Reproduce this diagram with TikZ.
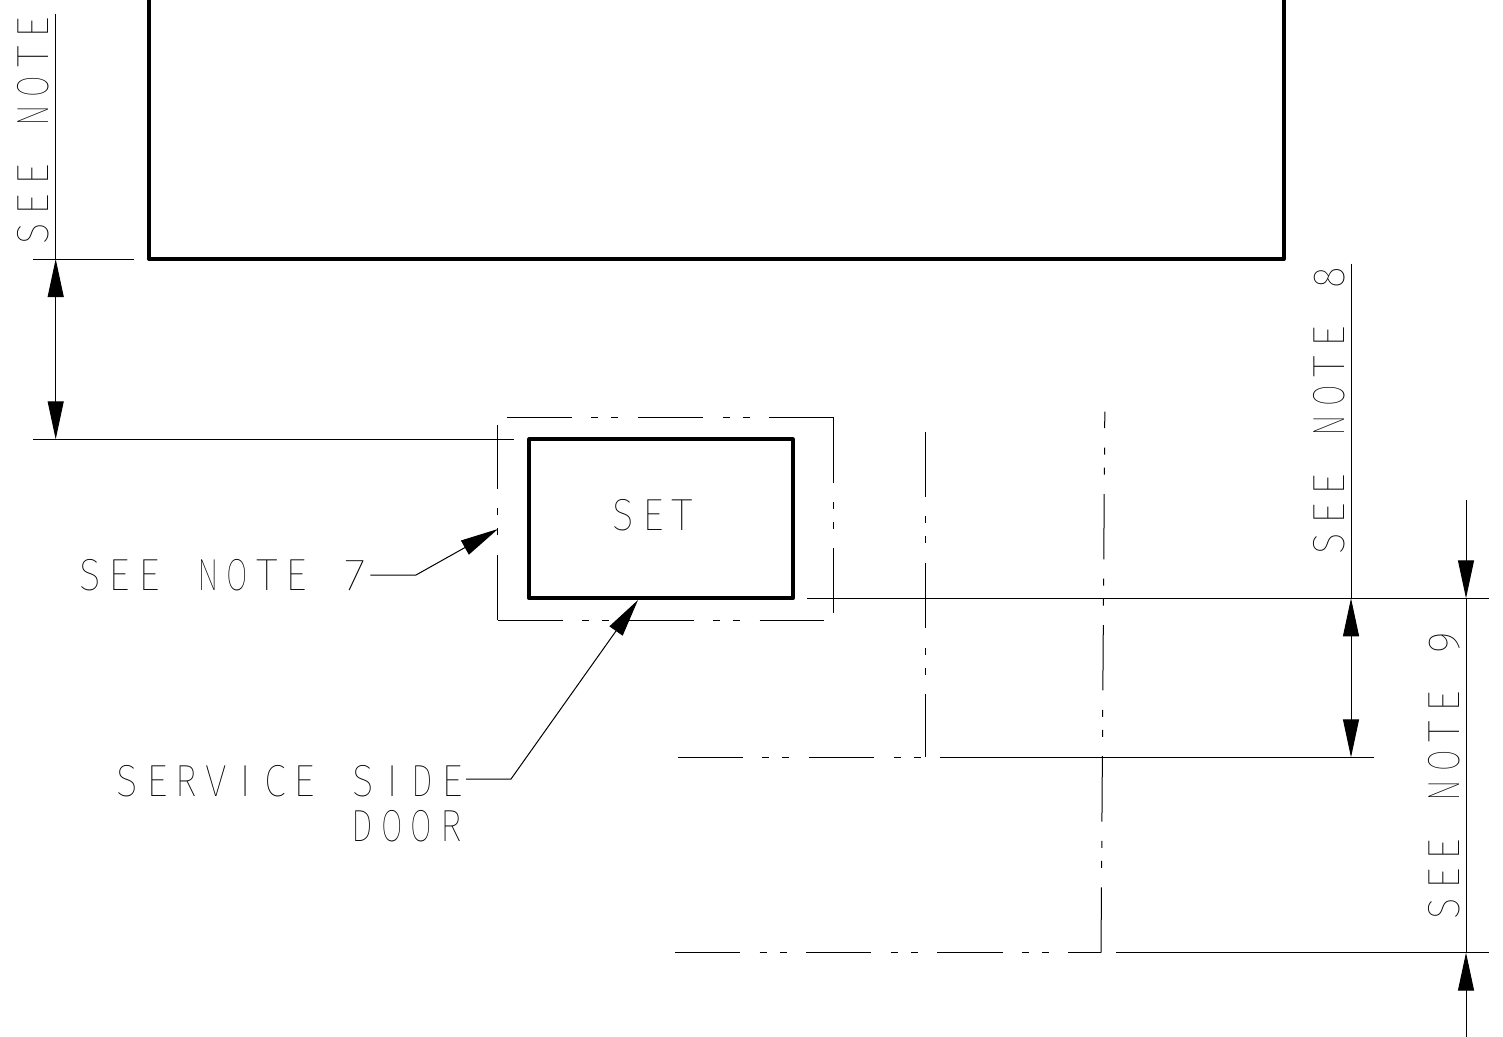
\documentclass[tikz,border=0pt]{standalone}
\usepackage{fontspec}
\usepackage{graphicx}
\usetikzlibrary{arrows.meta}
\newfontfamily\cadfont{Fira Sans Thin}
\makeatletter
\def\cad@I{I}
\def\cad@sp{~}
\newcommand\cadglyph[1]{%
  \def\cad@g{#1}%
  \ifx\cad@g\cad@I I\else
  \ifx\cad@g\cad@sp\else
  \resizebox{21.5pt}{\height}{#1}%
  \fi\fi}
\newcommand\cadtext[1]{\@tfor\cad@c:=#1\do{\makebox[29.5pt][c]{\expandafter\cadglyph\expandafter{\cad@c}}}}
\makeatother
\tikzset{
  x=1pt,y=-1pt,
  thinline/.style={line width=1pt,black},
  thickline/.style={line width=4pt,black,line join=round},
  phantomline/.style={thinline,dash pattern=on 65.3pt off 19.4pt on 7pt off 13pt on 7pt off 19.4pt},
  dimtip/.style={-{Triangle[length=38pt,width=16pt]}},
  dimtips/.style={{Triangle[length=38pt,width=16pt]}-{Triangle[length=38pt,width=16pt]}},
  label/.style={inner sep=0pt,outer sep=0pt,anchor=base west,font=\cadfont\fontsize{45}{45}\selectfont},
}
\begin{document}
\begin{tikzpicture}
\clip (0,0) rectangle (1503,1036);
\fill[white] (0,0) rectangle (1503,1036);

% large unit, cut by the top edge
\coordinate (bigTL) at (149.3,-10);
\coordinate (bigBL) at (149.3,259);
\coordinate (bigBR) at (1283.7,259);
\coordinate (bigTR) at (1283.7,-10);
\draw[thickline] (bigTL) -- (bigBL) -- (bigBR) -- (bigTR);

% set
\node[thickline,draw,inner sep=0pt,minimum width=263.4pt,minimum height=159pt] (setbox) at (661,518.8) {};
\node[label,anchor=base] (settext) at (653,530) {\cadtext{SET}};

% clearance outline around the set
\coordinate (cTopL) at (506.7,417.3);
\coordinate (cTR) at (833,417.3);
\coordinate (cRightB) at (833,613);
\coordinate (cBL) at (497.5,620);
\coordinate (cBotR) at (824,620);
\coordinate (cLeftT) at (497.5,424.5);
\draw[phantomline] (cTopL) -- (cTR);
\draw[phantomline] (cTR) -- (cRightB);
\draw[phantomline] (cBL) -- (cBotR);
\draw[phantomline] (cBL) -- (cLeftT);

% centre lines
\coordinate (v1T) at (925,431.7);
\coordinate (v1B) at (925,757.3);
\coordinate (v2T) at (1104.8,411.7);
\coordinate (v2B) at (1101,952.6);
\draw[phantomline] (v1T) -- (v1B);
\draw[phantomline] (v2B) -- (v2T);
\coordinate (h1L) at (677.7,757.3);
\coordinate (h1R) at (925,757.3);
\coordinate (h1bL) at (939.5,757.3);
\coordinate (h1bR) at (1374,757.3);
\draw[phantomline] (h1L) -- (h1R);
\draw[thinline] (h1bL) -- (h1bR);
\coordinate (h2L) at (675,952.6);
\coordinate (h2R) at (1101,952.6);
\coordinate (h2bL) at (1116,952.6);
\coordinate (h2bR) at (1489,952.6);
\draw[phantomline] (h2L) -- (h2R);
\draw[thinline] (h2bL) -- (h2bR);
\coordinate (h3L) at (807.3,598.3);
\coordinate (h3R) at (1489,598.3);
\draw[thinline] (h3L) -- (h3R);

% left dimension
\coordinate (dA0) at (55.7,13.5);
\coordinate (dA1) at (55.7,259);
\coordinate (dA2) at (55.7,439.3);
\coordinate (eA1L) at (33,259);
\coordinate (eA1R) at (134,259);
\coordinate (eA2L) at (33,439.3);
\coordinate (eA2R) at (513.5,439.3);
\draw[thinline] (dA0) -- (dA1);
\draw[thinline,dimtips] (dA1) -- (dA2);
\draw[thinline] (eA1L) -- (eA1R);
\draw[thinline] (eA2L) -- (eA2R);
\node[label,rotate=90] (note0) at (48.5,248.5) {\cadtext{SEE~NOTE}};

% note 8
\coordinate (dB0) at (1351,263.5);
\coordinate (dB1) at (1351,598.3);
\coordinate (dB2) at (1351,757.3);
\draw[thinline] (dB0) -- (dB1);
\draw[thinline,dimtips] (dB1) -- (dB2);
\node[label,rotate=90] (note8) at (1344,558) {\cadtext{SEE~NOTE~8}};

% note 9
\coordinate (dC0) at (1466,500);
\coordinate (dC1) at (1466,598.3);
\coordinate (dC2) at (1466,952.6);
\coordinate (dC3) at (1466,1040);
\draw[thinline,dimtip] (dC0) -- (dC1);
\draw[thinline] (dC1) -- (dC2);
\draw[thinline,dimtip] (dC3) -- (dC2);
\node[label,rotate=90] (note9) at (1459,923) {\cadtext{SEE~NOTE~9}};

% leaders
\node[label] (note7) at (75.2,590.7) {\cadtext{SEE~NOTE~7}};
\coordinate (l7a) at (370.4,575);
\coordinate (l7b) at (416,575);
\coordinate (l7c) at (498,529);
\draw[thinline,dimtip] (l7a) -- (l7b) -- (l7c);
\node[label] (service) at (112.5,796) {\cadtext{SERVICE~SIDE}};
\node[label] (door) at (347.5,841) {\cadtext{DOOR}};
\coordinate (lsa) at (466,779);
\coordinate (lsb) at (511,779);
\coordinate (lsc) at (638,600);
\draw[thinline,dimtip] (lsa) -- (lsb) -- (lsc);
\end{tikzpicture}
\end{document}
